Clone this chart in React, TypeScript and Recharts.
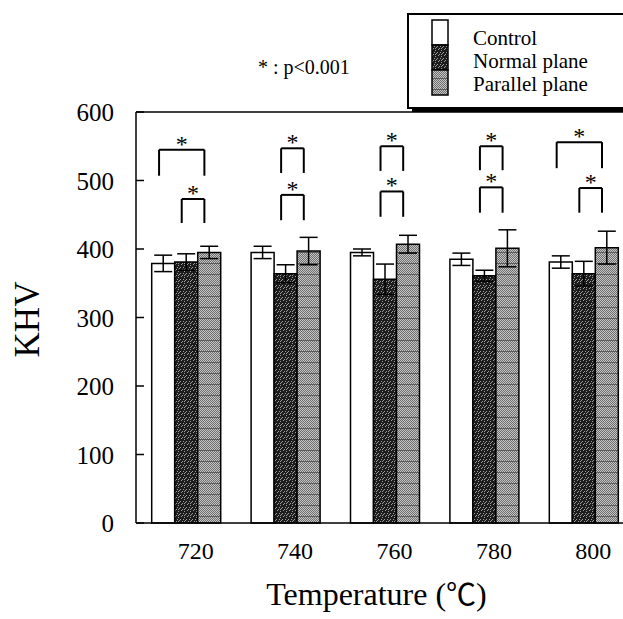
import React from 'react';
import { BarChart, Bar, XAxis, YAxis, ErrorBar, ReferenceLine, ReferenceDot, Legend } from 'recharts';

const FONT = '"Liberation Serif", "Times New Roman", serif';

const categories = ['720', '740', '760', '780', '800'];
const controlValues = [379, 395, 395, 385, 381];
const controlErrors = [12, 9, 5, 9, 9];
const normalValues = [381, 364, 356, 361, 364];
const normalErrors = [12, 13, 22, 8, 18];
const parallelValues = [395, 397, 407, 401, 402];
const parallelErrors = [9, 20, 13, 27, 24];
const yTicks = [0, 100, 200, 300, 400, 500, 600];
const seriesNames = ['Control', 'Normal plane', 'Parallel plane'];
const seriesFills = ['#ffffff', 'url(#normalPattern)', 'url(#parallelPattern)'];

// significance brackets: category index, bar indices, top level and leg end (KHV units)
const bracketCategory = [0, 0, 1, 1, 2, 2, 3, 3, 4, 4];
const bracketFromBar = [0, 1, 1, 1, 1, 1, 1, 1, 0, 1];
const bracketToBar = [2, 2, 2, 2, 2, 2, 2, 2, 2, 2];
const bracketTop = [545, 473, 547, 479, 550, 484, 550, 490, 556, 489];
const bracketLegEnd = [507, 438, 511, 442, 514, 447, 515, 453, 518, 453];

const chartData = categories.map((temp, i) => ({
  temp,
  idx: i,
  control: controlValues[i],
  controlErr: controlErrors[i],
  normal: normalValues[i],
  normalErr: normalErrors[i],
  parallel: parallelValues[i],
  parallelErr: parallelErrors[i],
}));

const CATEGORY_GAP = 0.158;
const BAR_FRACTION = (1 - 2 * CATEGORY_GAP) / 3;
const BRACKET_SHIFT = 0.04;
const barCenter = (cat: number, bar: number) =>
  cat + CATEGORY_GAP + (bar + 0.5) * BAR_FRACTION - BRACKET_SHIFT;

const brackets = bracketCategory.map((c, i) => ({
  x1: barCenter(c, bracketFromBar[i]),
  x2: barCenter(c, bracketToBar[i]),
  top: bracketTop[i],
  leg: bracketLegEnd[i],
}));

const speckles: [number, number][] = [
  [1, 0], [4, 1], [0, 3], [3, 3], [5, 4], [2, 5], [4, 5],
];

const PatternDefs = () => {
  const rows = [];
  for (let r = 0; r < 10; r++) {
    rows.push(<rect key={r} x={r % 2} y={r} width={1} height={1} fill="#6e6e6e" />);
  }
  return (
    <svg width={0} height={0} style={{ position: 'absolute' }}>
      <defs>
        <pattern id="normalPattern" width="6" height="6" patternUnits="userSpaceOnUse">
          <rect width="6" height="6" fill="#1c1c1c" />
          {speckles.map(([x, y], i) => (
            <rect key={i} x={x} y={y} width={1} height={1} fill="#9c9c9c" />
          ))}
        </pattern>
        <pattern id="parallelPattern" width="2" height="11" patternUnits="userSpaceOnUse">
          <rect width="2" height="11" fill="#c6c6c6" />
          {rows}
          <rect x="0" y="10" width="2" height="1" fill="#5c5c5c" />
        </pattern>
      </defs>
    </svg>
  );
};

const YTickLeft = (props: any) => {
  const { x, y, payload } = props;
  return (
    <g>
      <line x1={x} x2={x + 8} y1={y} y2={y} stroke="#000" strokeWidth={1.5} />
      <text x={x - 22} y={y + 9} textAnchor="end" fontSize={25} fontFamily={FONT} fill="#000">
        {payload.value}
      </text>
    </g>
  );
};

const YTickRight = (props: any) => {
  const { x, y, payload } = props;
  if (payload.value === 0 || payload.value === 600) return <g />;
  return <line x1={x - 9} x2={x} y1={y} y2={y} stroke="#000" strokeWidth={1.5} />;
};

const XTick = (props: any) => {
  const { x, y, payload } = props;
  return (
    <text x={x + 10} y={y + 35.5} textAnchor="middle" fontSize={24} fontFamily={FONT} fill="#000">
      {payload.value}
    </text>
  );
};

const YLabel = (props: any) => {
  const vb = props.viewBox || { x: 0, y: 112, width: 136, height: 411 };
  const cx = vb.x + 27;
  const cy = vb.y + vb.height / 2 + 2;
  return (
    <text
      x={cx}
      y={cy}
      transform={`rotate(-90 ${cx} ${cy})`}
      textAnchor="middle"
      dominantBaseline="central"
      fontSize={35}
      fontFamily={FONT}
      fill="#000"
    >
      KHV
    </text>
  );
};

const XLabel = (props: any) => {
  const vb = props.viewBox || { x: 136, y: 523, width: 497, height: 96 };
  return (
    <text
      x={vb.x + vb.width / 2 - 8}
      y={vb.y + 82}
      textAnchor="middle"
      fontSize={32}
      fontFamily={FONT}
      fill="#000"
    >
      Temperature (
      <tspan fontFamily='"Noto Sans CJK JP", "DejaVu Sans", sans-serif' fontSize={30}>℃</tspan>
      )
    </text>
  );
};

const LegendBox = () => (
  <svg width={240} height={104} style={{ display: 'block' }}>
    <rect x={5} y={95} width={240} height={4} fill="#000" />
    <rect x={1} y={1} width={250} height={94} fill="#fff" stroke="#000" strokeWidth={2} />
    {seriesNames.map((name, i) => (
      <g key={name}>
        <rect x={25} y={7 + i * 25} width={16} height={25} fill={seriesFills[i]} stroke="#000" strokeWidth={1.5} />
        <text x={66} y={32 + i * 23} fontSize={21} fontFamily={FONT} fill="#000">
          {name}
        </text>
      </g>
    ))}
  </svg>
);

const Asterisk = (props: any) => (
  <text x={props.cx} y={props.cy + 2} textAnchor="middle" fontSize={24} fontFamily={FONT} fill="#000">
    *
  </text>
);

export default function App() {
  return (
    <div
      style={{
        position: 'fixed',
        left: 0,
        top: 0,
        width: 623,
        height: 619,
        overflow: 'hidden',
        background: '#fff',
        fontFamily: FONT,
      }}
    >
      <PatternDefs />
      <BarChart
        width={700}
        height={619}
        data={chartData}
        margin={{ top: 112, right: 37, bottom: 0, left: 0 }}
        barCategoryGap="15.8%"
        barGap={0}
      >
        <XAxis
          xAxisId="c"
          dataKey="temp"
          height={96}
          axisLine={{ stroke: '#000', strokeWidth: 1.5 }}
          tickLine={false}
          tickSize={0}
          tickMargin={0}
          tick={<XTick />}
          interval={0}
          label={<XLabel />}
        />
        <XAxis xAxisId="n" type="number" dataKey="idx" domain={[0, 5]} allowDataOverflow hide />
        <YAxis
          yAxisId="l"
          domain={[0, 600]}
          ticks={yTicks}
          width={136}
          axisLine={{ stroke: '#000', strokeWidth: 1.5 }}
          tickLine={false}
          tickSize={0}
          tickMargin={0}
          tick={<YTickLeft />}
          interval={0}
          label={<YLabel />}
        />
        <YAxis
          yAxisId="r"
          orientation="right"
          domain={[0, 600]}
          ticks={yTicks}
          width={30}
          axisLine={{ stroke: '#000', strokeWidth: 1.5 }}
          tickLine={false}
          tickSize={0}
          tickMargin={0}
          tick={<YTickRight />}
          interval={0}
        />
        <ReferenceLine xAxisId="c" yAxisId="l" y={600} stroke="#000" strokeWidth={1.5} />
        <Bar xAxisId="c" yAxisId="l" dataKey="control" name={seriesNames[0]} fill={seriesFills[0]} stroke="#000" strokeWidth={1.5} isAnimationActive={false}>
          <ErrorBar dataKey="controlErr" width={9} stroke="#000" strokeWidth={1.5} isAnimationActive={false} />
        </Bar>
        <Bar xAxisId="c" yAxisId="l" dataKey="normal" name={seriesNames[1]} fill={seriesFills[1]} stroke="#000" strokeWidth={1.5} isAnimationActive={false}>
          <ErrorBar dataKey="normalErr" width={9} stroke="#000" strokeWidth={1.5} isAnimationActive={false} />
        </Bar>
        <Bar xAxisId="c" yAxisId="l" dataKey="parallel" name={seriesNames[2]} fill={seriesFills[2]} stroke="#000" strokeWidth={1.5} isAnimationActive={false}>
          <ErrorBar dataKey="parallelErr" width={9} stroke="#000" strokeWidth={1.5} isAnimationActive={false} />
        </Bar>
        {brackets.map((b, i) => (
          <ReferenceLine
            key={`l${i}`}
            xAxisId="n"
            yAxisId="l"
            segment={[{ x: b.x1, y: b.leg }, { x: b.x1, y: b.top }]}
            stroke="#000"
            strokeWidth={2}
            ifOverflow="visible"
          />
        ))}
        {brackets.map((b, i) => (
          <ReferenceLine
            key={`t${i}`}
            xAxisId="n"
            yAxisId="l"
            segment={[{ x: b.x1, y: b.top }, { x: b.x2, y: b.top }]}
            stroke="#000"
            strokeWidth={2}
            ifOverflow="visible"
          />
        ))}
        {brackets.map((b, i) => (
          <ReferenceLine
            key={`r${i}`}
            xAxisId="n"
            yAxisId="l"
            segment={[{ x: b.x2, y: b.top }, { x: b.x2, y: b.leg }]}
            stroke="#000"
            strokeWidth={2}
            ifOverflow="visible"
          />
        ))}
        {brackets.map((b, i) => (
          <ReferenceDot
            key={`a${i}`}
            xAxisId="n"
            yAxisId="l"
            x={(b.x1 + b.x2) / 2}
            y={b.top}
            r={0}
            ifOverflow="visible"
            shape={<Asterisk />}
          />
        ))}
        <Legend
          layout="vertical"
          align="center"
          verticalAlign="middle"
          wrapperStyle={{ position: 'absolute', left: 407, top: 13, width: 240, height: 104, bottom: 'auto', right: 'auto' }}
          content={() => <LegendBox />}
        />
      </BarChart>
      <svg width={623} height={619} style={{ position: 'absolute', left: 0, top: 0, pointerEvents: 'none' }}>
        <text x={258} y={74} fontSize={20} fontFamily={FONT} fill="#000">
          * : p&lt;0.001
        </text>
      </svg>
    </div>
  );
}
